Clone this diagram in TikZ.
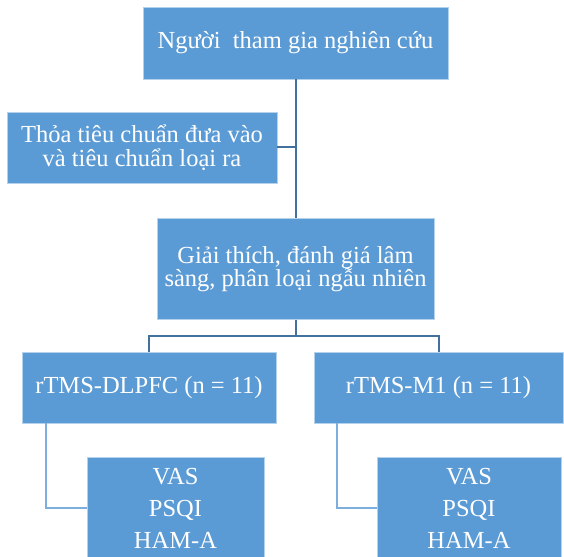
\documentclass[tikz,border=0pt]{standalone}
\usepackage{fontspec}
\setmainfont{Liberation Serif}
\usetikzlibrary{positioning}
\definecolor{boxblue}{RGB}{91,155,213}
\definecolor{lineblue}{RGB}{65,113,156}

\begin{document}
\begin{tikzpicture}[x=1pt,y=-1pt,
  flowbox/.style={rectangle,fill=boxblue,draw=boxblue!45!white,line width=0.8pt,
    text=white,align=center,inner sep=0pt,font=\fontsize{24.5}{23.5}\selectfont},
  scorebox/.style={flowbox,font=\fontsize{24.5}{32}\selectfont},
  link/.style={draw=lineblue,line width=2pt},
  sublink/.style={draw=boxblue!80!white,line width=2pt}]

  \useasboundingbox (0,0) rectangle (564,556);
  \clip (0,0) rectangle (564,556);

  \node[flowbox,minimum width=305pt,minimum height=72pt] (people) at (295.5,43) {Người\ \ tham gia nghiên cứu};
  \node[flowbox,minimum width=270pt,minimum height=71pt] (criteria) at (142,147.5) {Thỏa tiêu chuẩn đưa vào\\và tiêu chuẩn loại ra};
  \node[flowbox,minimum width=277pt,minimum height=101pt] (assess) [below=139pt of people] {Giải thích, đánh giá lâm\\sàng, phân loại ngẫu nhiên};
  \node[flowbox,minimum width=254pt,minimum height=71pt] (dlpfc) at (149,387.5) {rTMS-DLPFC (n = 11)};
  \node[flowbox,minimum width=249pt,minimum height=71pt] (mone) at (438.5,387.5) {rTMS-M1 (n = 11)};
  \node[scorebox,minimum width=177pt,minimum height=102pt] (scoresA) at (175.5,508) {VAS\\PSQI\\HAM-A};
  \node[scorebox,minimum width=184pt,minimum height=102pt] (scoresB) at (469,508) {VAS\\PSQI\\HAM-A};

  % trunk and side branch
  \draw[link] (people.south) -- (assess.north);
  \draw[link] (criteria.east) -- (criteria.east -| people.south);

  % split into the two groups
  \draw[link] (assess.south) -- ++(0,16) -| (dlpfc.north);
  \draw[link] (assess.south) ++(0,16) -| (mone.north);

  % outcome scales per group
  \draw[sublink] ([xshift=24pt]dlpfc.south west) |- (scoresA.west);
  \draw[sublink] ([xshift=23pt]mone.south west) |- (scoresB.west);
\end{tikzpicture}
\end{document}
